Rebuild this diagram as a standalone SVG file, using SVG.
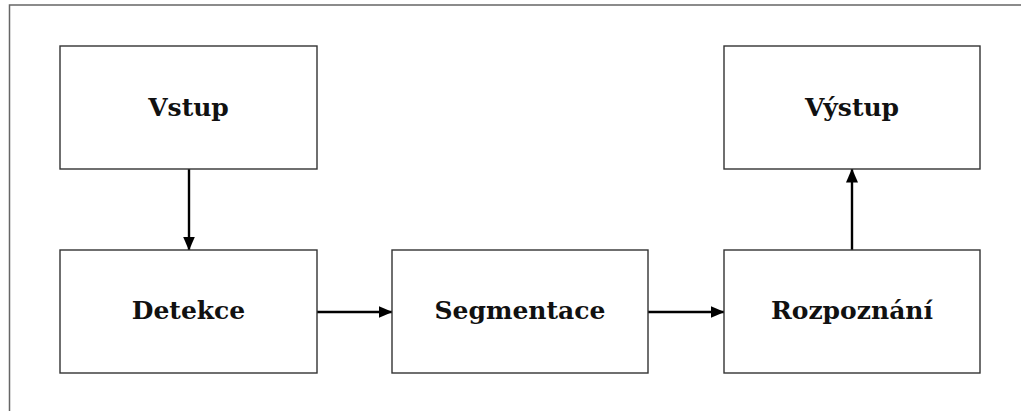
<svg xmlns="http://www.w3.org/2000/svg" width="1021" height="411" viewBox="0 0 1021 411">
<style>
.box{fill:#fff;stroke:#333;stroke-width:1.4}
.lbl{font-family:"DejaVu Serif","Liberation Serif",serif;font-weight:bold;font-size:25px;fill:#111;text-anchor:middle}
.edge{stroke:#000;stroke-width:2.4;fill:none;marker-end:url(#ah)}
.frame{stroke:#666;stroke-width:1.5;fill:none}
</style>
<defs>
<marker id="ah" viewBox="0 0 14 12" refX="13.5" refY="6" markerWidth="14" markerHeight="12" markerUnits="userSpaceOnUse" orient="auto">
<path d="M0,0 L14,6 L0,12 Z" fill="#000"/>
</marker>
</defs>
<rect width="1021" height="411" fill="#fff"/>
<path class="frame" d="M9.5,411 V5 H1021"/>
<g id="connectors">
<line class="edge" x1="189" y1="169" x2="189" y2="250"/>
<line class="edge" x1="317" y1="312" x2="392" y2="312"/>
<line class="edge" x1="648" y1="312" x2="724" y2="312"/>
<line class="edge" x1="852" y1="250" x2="852" y2="169"/>
</g>
<g id="vstup"><rect class="box" x="60" y="46" width="257" height="123"/><text class="lbl" x="188.5" y="116">Vstup</text></g>
<g id="vystup"><rect class="box" x="724" y="46" width="256" height="123"/><text class="lbl" x="852" y="116">Výstup</text></g>
<g id="detekce"><rect class="box" x="60" y="250" width="257" height="123"/><text class="lbl" x="188.5" y="319">Detekce</text></g>
<g id="segmentace"><rect class="box" x="392" y="250" width="256" height="123"/><text class="lbl" x="520" y="319">Segmentace</text></g>
<g id="rozpoznani"><rect class="box" x="724" y="250" width="256" height="123"/><text class="lbl" x="852" y="319">Rozpoznání</text></g>
</svg>
